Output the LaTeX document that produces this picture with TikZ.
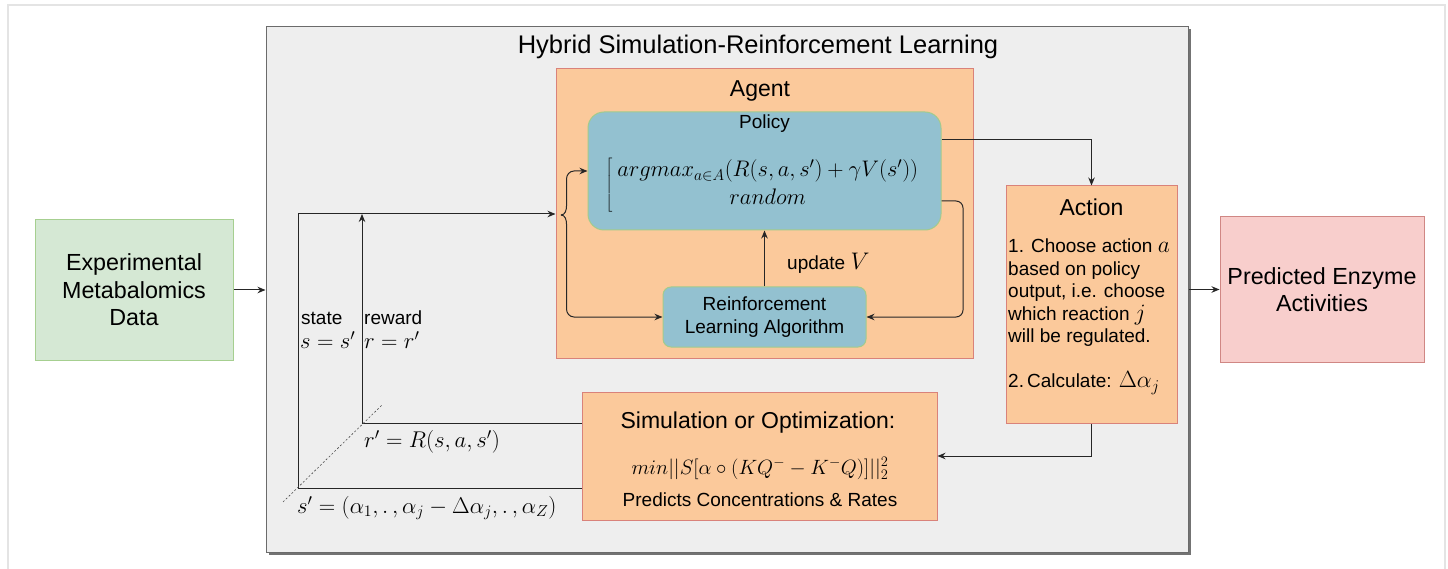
\RequirePackage{fix-cm}
\documentclass[tikz,border=0pt]{standalone}
\usepackage{fontspec}
\setmainfont{Liberation Sans}
\usetikzlibrary{arrows.meta,calc,shadows}
\definecolor{greyfill}{HTML}{EEEEEE}
\definecolor{greydraw}{HTML}{6B6B6B}
\definecolor{orfill}{HTML}{FBC99B}
\definecolor{ordraw}{HTML}{D9827A}
\definecolor{blfill}{HTML}{93C1D0}
\definecolor{bldraw}{HTML}{A3CB8C}
\definecolor{grfill}{HTML}{D5E8D4}
\definecolor{grdraw}{HTML}{A6CF90}
\definecolor{rdfill}{HTML}{F8CECC}
\definecolor{rddraw}{HTML}{D08784}
\definecolor{framec}{HTML}{E4E4E4}
\newcommand{\mymath}[1]{{\fontsize{23.5}{22.5}\selectfont$#1$}}
\begin{document}
\begin{tikzpicture}[x=1pt,y=-1pt,
  box/.style={draw, line width=1pt, inner sep=0pt, align=center},
  conn/.style={draw=black!85, line width=1pt, -{Stealth[length=8pt,width=6.5pt]}},
  plain/.style={draw=black!85, line width=1pt},
  diag/.style={draw=black!70, line width=0.6pt, dash pattern=on 2pt off 2pt},
  txt/.style={inner sep=0pt, align=center},
  sz19/.style={txt, font=\fontsize{19}{22.5}\selectfont},
  sz23/.style={txt, font=\fontsize{23}{27.5}\selectfont},
  mth/.style={txt, font=\fontsize{22.8}{27}\selectfont},
  mths/.style={txt, font=\fontsize{20.7}{26}\selectfont}]
\useasboundingbox (0,0) rectangle (1448,569);
\fill[white] (0,0) rectangle (1448,569);
\draw[framec, line width=1.2pt] (8,569) -- (8,5) -- (1445,5) -- (1445,569);

% containers
\node[box, fill=greyfill, draw=greydraw, minimum width=922, minimum height=525,
  drop shadow={shadow xshift=2.5pt, shadow yshift=-2.5pt, fill=black!55, opacity=1}] (hyb) at (727,289.5) {};
\node[txt, font=\fontsize{25.5}{30}\selectfont] (title) at (758,47) {Hybrid Simulation-Reinforcement Learning};

\node[box, fill=orfill, draw=ordraw, minimum width=417, minimum height=289] (agent) at (764.5,213.5) {};
\node[sz23] (agentlbl) at (760,91) {Agent};

\node[box, fill=blfill, draw=bldraw, rounded corners=16pt, minimum width=353, minimum height=118] (policy) at (764.5,171) {};
\node[sz19] (policylbl) at (764.5,124) {Policy};
\node[txt, font=\fontsize{22.5}{27.5}\selectfont] (polf) at (765,185) {$\left[\begin{array}{c} argmax_{a\in A}(R(s,a,s')+\gamma V(s'))\\ random\end{array}\right.$};

\node[box, fill=blfill, draw=bldraw, rounded corners=8pt, minimum width=203, minimum height=60, font=\fontsize{19}{22.5}\selectfont] (rl) at (764.5,317) {Reinforcement\\Learning Algorithm};
\node[sz19, anchor=west] (upd) at (787,263) {update {\fontsize{24}{26}\selectfont$V$}};

\node[box, fill=orfill, draw=ordraw, minimum width=171, minimum height=237] (action) at (1091.5,304.5) {};
\node[sz23] (actlbl) at (1091.5,207) {Action};
\node[sz19, anchor=north west, align=left] (acttext) at (1008,239) {1. Choose action \mymath{a}\\based on policy\\output, i.e. choose\\which reaction \mymath{j}\\will be regulated.\\[22.5pt]2.\,Calculate: \mymath{\Delta\alpha_j}};

\node[box, fill=orfill, draw=ordraw, minimum width=355, minimum height=128] (sim) at (759.5,456) {};
\node[sz23] (simlbl) at (758,423) {Simulation or Optimization:};
\node[mths] (simf) at (760,468.5) {$min||S[\alpha\circ(KQ^{-}-K^{-}Q)]||_2^2$};
\node[sz19] (simsub) at (760,499.5) {Predicts Concentrations \& Rates};

\node[box, fill=grfill, draw=grdraw, minimum width=198, minimum height=140, font=\fontsize{23.3}{27.5}\selectfont] (exp) at (134,290) {Experimental\\Metabalomics\\Data};
\node[box, fill=rdfill, draw=rddraw, minimum width=204, minimum height=145, font=\fontsize{23.3}{27}\selectfont] (pred) at (1322,289.5) {Predicted Enzyme\\Activities};

% labels
\node[sz19, anchor=west] (statel) at (301,318) {state};
\node[mth, anchor=west] (statem) at (300,340) {$s=s'$};
\node[sz19, anchor=west] (rewl) at (364,318) {reward};
\node[mth, anchor=west] (rewm) at (364,340) {$r=r'$};
\node[mth, anchor=west] (rdef) at (364,442) {$r'=R(s,a,s')$};
\node[mth, anchor=west] (sdef) at (297,508) {$s'=(\alpha_1, .\,, \alpha_j-\Delta\alpha_j, .\,, \alpha_Z)$};

% coordinates
\coordinate (sc) at (298,488);
\coordinate (rc) at (362,423);
\coordinate (stop) at (298,214);
\coordinate (brt) at (561,215);
\coordinate (bu1) at (566.5,206);
\coordinate (bu2) at (566.5,179);
\coordinate (bu3) at (574,171);
\coordinate (bl1) at (566.5,224);
\coordinate (bl2) at (566.5,309);
\coordinate (bl3) at (574,317);
\coordinate (pr) at (941,201);
\coordinate (rr) at (963,201);
\coordinate (pt) at (941,140);
\coordinate (d1) at (283,502);
\coordinate (d2) at (382,405);

% connectors
\draw[conn] (exp.east) -- (exp.east -| hyb.west);
\draw[conn] (hyb.east |- pred.west) -- (pred.west);
\draw[plain] (sim.west |- sc) -- (sc) -- (stop);
\draw[conn] (stop) -- (agent.west |- stop);
\draw[conn] (sim.west |- rc) -- (rc) -- (rc |- stop);
\draw[conn] (brt) to[out=0,in=-90] (bu1) -- (bu2) to[out=90,in=180] (bu3) -- (policy.west);
\draw[conn] (brt) to[out=0,in=90] (bl1) -- (bl2) to[out=-90,in=180] (bl3) -- (rl.west);
\draw[conn, rounded corners=7pt] (policy.east |- pr) -- (rr) -- (rr |- rl.east) -- (rl.east);
\draw[conn] (rl.north) -- (policy.south);
\draw[conn] (policy.east |- pt) -- (action.north |- pt) -- (action.north);
\draw[conn] (action.south) -- (action.south |- sim.east) -- (sim.east);
\draw[diag] (d1) -- (d2);
\end{tikzpicture}
\end{document}
